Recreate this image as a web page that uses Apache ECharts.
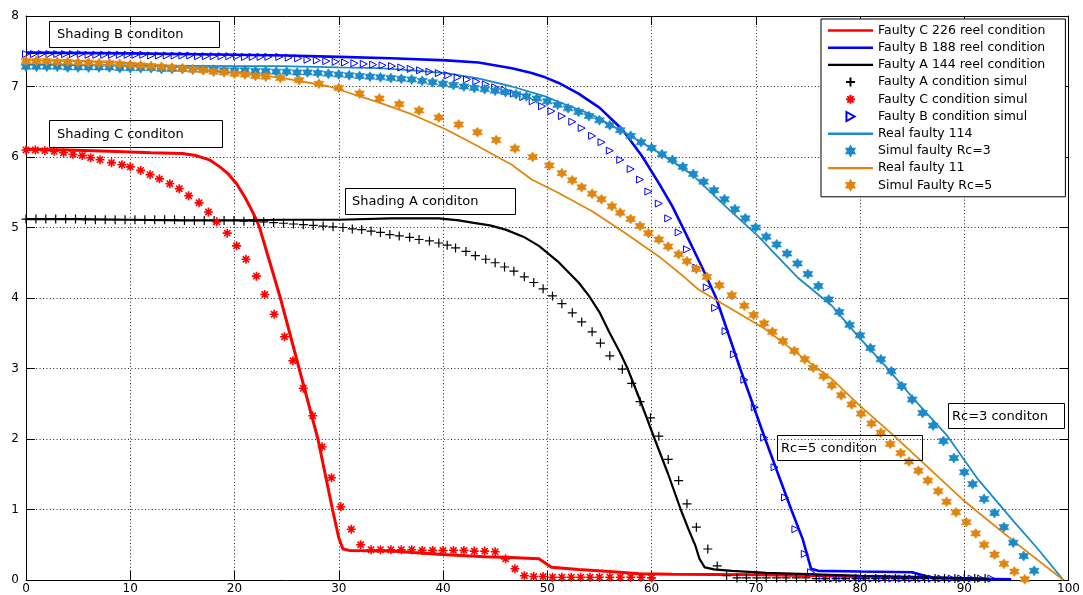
<!DOCTYPE html>
<html>
<head>
<meta charset="utf-8">
<script src="https://cdn.jsdelivr.net/npm/echarts@6/dist/echarts.min.js"></script>
<style>
  html, body { margin: 0; padding: 0; background: #fff; }
  #chart { width: 1083px; height: 595px; }
</style>
</head>
<body>
<div id="chart"></div>
<script>
// legend names, in the order of the legend box
const seriesNames = [
  "Faulty C 226 reel condition",
  "Faulty B 188 reel condition",
  "Faulty A 144 reel condition",
  "Faulty A condition simul",
  "Faulty C condition simul",
  "Faulty B condition simul",
  "Real faulty 114",
  "Simul faulty Rc=3",
  "Real faulty 11",
  "Simul Faulty Rc=5"
];
// which legend entries are plain lines
const lineEntries = [true, true, true, false, false, false, true, false, true, false];

const xTicks = [0, 10, 20, 30, 40, 50, 60, 70, 80, 90, 100];
const yTicks = [0, 1, 2, 3, 4, 5, 6, 7, 8];

// measured curves [x, y]
const faultyCReel = [[0,6.11],[4,6.1],[8,6.08],[12,6.06],[15,6.05],[16.3,6.02],[17.6,5.96],[18.6,5.86],[19.4,5.76],[20.2,5.62],[21,5.43],[21.6,5.26],[22.1,5.11],[22.4,5.0],[23.4,4.5],[24.4,4.0],[26.2,3.0],[28.0,2.0],[29.4,1.0],[30.0,0.6],[30.4,0.44],[31,0.42],[35,0.41],[39.9,0.36],[44,0.33],[46.5,0.32],[49.2,0.3],[50.4,0.18],[53,0.15],[56,0.12],[58.8,0.09],[62,0.08],[70,0.075],[76,0.06],[80,0.05],[85,0.03]];

const faultyBReel = [[0,7.48],[10,7.47],[20,7.45],[25,7.44],[30,7.42],[35,7.4],[40.3,7.37],[43.4,7.34],[46.6,7.26],[48.5,7.19],[49.8,7.13],[51.1,7.05],[53,6.9],[55,6.7],[57.2,6.39],[59.1,6.01],[60.7,5.63],[62,5.3],[63.1,4.97],[64.8,4.45],[66.2,4.0],[68.5,3.0],[70.9,2.0],[73.4,1.0],[74.5,0.58],[75.3,0.16],[76,0.13],[80,0.12],[85,0.11],[86.2,0.06],[87,0.03],[90,0.02],[94.5,0.01]];

const faultyAReel = [[0,5.12],[5,5.12],[10,5.11],[15,5.1],[20,5.1],[25,5.11],[30,5.11],[35,5.13],[39.6,5.13],[41.5,5.1],[42.8,5.07],[44.5,5.03],[46,4.97],[47.7,4.87],[49.2,4.74],[51,4.52],[53,4.22],[54,4.03],[55,3.8],[56,3.5],[57,3.22],[57.7,3.0],[58.9,2.55],[60.3,2.0],[61.6,1.5],[62.8,1.0],[63.6,0.7],[64.2,0.49],[64.6,0.3],[65.1,0.18],[66,0.15],[67.7,0.13],[71,0.1],[75,0.085],[80,0.06],[85,0.045],[92,0.02]];

const realFaulty114 = [[0,7.31],[10,7.3],[20,7.29],[24.3,7.29],[30,7.27],[33.9,7.26],[37,7.23],[40.3,7.19],[43.5,7.11],[46.6,7.0],[49.8,6.86],[51.1,6.78],[54.3,6.6],[57.5,6.34],[60.7,6.06],[63.9,5.75],[67.1,5.3],[70.2,4.88],[72,4.6],[74.1,4.28],[77.3,3.89],[79.8,3.46],[82.4,3.04],[85.2,2.56],[88.4,2.04],[91.3,1.43],[94.8,0.82],[97,0.45],[99.5,0.0]];

const realFaulty11 = [[0,7.37],[5,7.36],[10,7.33],[15,7.27],[20,7.19],[24.3,7.13],[29.1,7.0],[33.9,6.77],[37.1,6.6],[40.3,6.39],[43.4,6.15],[46.6,5.89],[48.5,5.68],[51.1,5.49],[54.3,5.23],[57.5,4.92],[60.7,4.59],[63.2,4.29],[64.5,4.12],[67.7,3.84],[70.9,3.56],[74.1,3.2],[77.3,2.85],[80,2.47],[83,2.08],[85.7,1.71],[90,1.12],[95,0.52],[99.5,0.0]];

// simulated points [x, y]
const faultyASimul = [[0,5.12],[0.95,5.12],[1.9,5.12],[2.85,5.12],[3.8,5.12],[4.75,5.12],[5.7,5.11],[6.65,5.11],[7.6,5.11],[8.55,5.11],[9.5,5.11],[10.45,5.11],[11.4,5.11],[12.35,5.11],[13.3,5.11],[14.25,5.11],[15.2,5.1],[16.15,5.1],[17.1,5.1],[18.05,5.1],[19,5.1],[19.95,5.1],[20.9,5.09],[21.85,5.09],[22.8,5.08],[23.75,5.07],[24.7,5.06],[25.65,5.05],[26.6,5.04],[27.55,5.03],[28.5,5.02],[29.45,5.01],[30.4,5.0],[31.3,4.98],[32.2,4.97],[33.1,4.95],[34,4.93],[34.9,4.9],[35.8,4.88],[36.8,4.86],[37.7,4.83],[38.7,4.81],[39.6,4.78],[40.4,4.75],[41.2,4.71],[42.2,4.66],[43.1,4.6],[44.1,4.55],[45,4.5],[45.9,4.44],[46.8,4.38],[47.8,4.3],[48.7,4.22],[49.6,4.13],[50.5,4.03],[51.4,3.92],[52.4,3.79],[53.3,3.66],[54.3,3.52],[55.1,3.36],[56,3.18],[57.2,2.99],[58.1,2.79],[58.9,2.53],[59.9,2.3],[60.7,2.04],[61.6,1.71],[62.6,1.41],[63.4,1.08],[64.3,0.75],[65.4,0.44],[66.3,0.2],[67.2,0.06],[68.2,0.03],[69.1,0.03],[70.1,0.03],[71,0.03],[72,0.03],[72.9,0.03],[73.9,0.03],[74.8,0.03],[75.8,0.02],[76.7,0.02],[77.7,0.02],[78.6,0.02],[79.6,0.02],[80.5,0.02],[81.5,0.02],[82.4,0.02],[83.4,0.02],[84.3,0.02],[85.3,0.02],[86.2,0.02],[87.2,0.02],[88.1,0.02],[89.1,0.02],[90,0.02],[91,0.02],[92,0.02]];

const faultyCSimul = [[0,6.1],[0.9,6.1],[1.8,6.09],[2.7,6.08],[3.6,6.06],[4.5,6.04],[5.4,6.02],[6.2,5.99],[7.1,5.96],[8.2,5.92],[9.2,5.89],[10,5.86],[11,5.81],[11.9,5.75],[12.8,5.69],[13.8,5.62],[14.7,5.55],[15.6,5.45],[16.6,5.35],[17.5,5.22],[18.3,5.08],[19.3,4.92],[20.2,4.74],[21.1,4.55],[22.1,4.31],[22.9,4.05],[23.8,3.77],[24.8,3.45],[25.6,3.11],[26.6,2.72],[27.5,2.33],[28.4,1.89],[29.3,1.45],[30.2,1.04],[31.2,0.72],[32.1,0.5],[33.1,0.43],[34,0.43],[35,0.43],[36,0.43],[37,0.43],[38,0.42],[39,0.42],[40,0.42],[41,0.42],[42,0.42],[43,0.41],[44,0.41],[45,0.4],[46,0.3],[46.9,0.16],[47.8,0.06],[48.7,0.05],[49.6,0.05],[50.5,0.04],[51.4,0.04],[52.3,0.04],[53.2,0.04],[54.1,0.04],[55,0.04],[56,0.04],[57,0.04],[58,0.04],[59,0.04],[60,0.03]];

const faultyBSimul = [[0,7.46],[0.75,7.46],[1.5,7.46],[2.25,7.46],[3,7.46],[3.75,7.46],[4.5,7.46],[5.25,7.46],[6,7.45],[6.75,7.45],[7.5,7.45],[8.25,7.45],[9,7.45],[9.75,7.45],[10.5,7.45],[11.25,7.45],[12,7.44],[12.75,7.44],[13.5,7.44],[14.25,7.44],[15,7.44],[15.75,7.44],[16.5,7.43],[17.25,7.43],[18,7.43],[18.75,7.43],[19.5,7.43],[20.25,7.43],[21,7.42],[21.75,7.42],[22.5,7.42],[23.25,7.42],[24.3,7.42],[25.2,7.41],[26.1,7.4],[27,7.38],[27.9,7.37],[28.8,7.36],[29.7,7.35],[30.6,7.34],[31.5,7.33],[32.4,7.32],[33.3,7.31],[34.2,7.3],[35.1,7.29],[36,7.27],[36.9,7.25],[37.8,7.23],[38.7,7.21],[39.6,7.19],[40.5,7.16],[41.4,7.13],[42.3,7.1],[43.2,7.07],[44.1,7.03],[45,6.99],[45.9,6.95],[46.8,6.9],[47.7,6.85],[48.6,6.79],[49.5,6.72],[50.4,6.65],[51.4,6.58],[52.4,6.5],[53.3,6.41],[54.3,6.3],[55.2,6.21],[56,6.09],[57,5.96],[58,5.83],[58.9,5.68],[59.7,5.51],[60.7,5.34],[61.6,5.13],[62.6,4.93],[63.4,4.69],[64.3,4.43],[65.3,4.15],[66.1,3.86],[67.1,3.53],[67.9,3.2],[68.9,2.84],[69.9,2.45],[70.8,2.02],[71.8,1.6],[72.8,1.17],[73.8,0.72],[74.7,0.37],[75.3,0.11],[76.4,0.02],[77.4,0.02],[78.3,0.02],[79.3,0.02],[80.2,0.02],[81.2,0.02],[82.1,0.02],[83.1,0.02],[84,0.02],[85,0.02],[85.9,0.02],[86.9,0.02],[87.8,0.02],[88.8,0.02],[89.7,0.02],[90.7,0.02],[91.6,0.02],[92.6,0.02]];

const simulRc3 = [[0,7.28],[1,7.28],[2,7.28],[3,7.28],[4,7.27],[5,7.27],[6,7.27],[7,7.27],[8,7.27],[9,7.26],[10,7.26],[11,7.26],[12,7.26],[13,7.25],[14,7.25],[15,7.25],[16,7.24],[17,7.24],[18,7.24],[19,7.23],[20,7.23],[21,7.23],[22,7.22],[23,7.22],[24,7.21],[25,7.21],[26,7.2],[27,7.2],[28,7.19],[29,7.18],[30,7.17],[31,7.16],[32,7.15],[33,7.14],[34,7.13],[35,7.12],[36,7.11],[37,7.1],[38,7.08],[39,7.06],[40,7.04],[41,7.02],[42,7.0],[43,6.98],[44,6.96],[45,6.94],[46,6.92],[47,6.89],[48,6.86],[49,6.83],[50,6.79],[51,6.74],[52,6.69],[53,6.64],[54,6.58],[55,6.52],[56,6.45],[57,6.38],[58,6.3],[59,6.21],[60,6.13],[61,6.04],[62,5.96],[63,5.86],[64,5.76],[65,5.65],[66,5.53],[67,5.4],[68,5.26],[69,5.13],[70,5.0],[71,4.87],[72,4.76],[73,4.63],[74,4.49],[75,4.34],[76,4.17],[77,3.98],[78,3.8],[79,3.62],[80,3.47],[81,3.29],[82,3.13],[83,2.96],[84,2.75],[85,2.56],[86,2.37],[87,2.19],[88,1.97],[89,1.73],[90,1.53],[90.8,1.36],[91.9,1.15],[92.9,0.95],[93.8,0.75],[94.7,0.53],[95.7,0.34],[96.7,0.13]];

const simulRc5 = [[0,7.36],[1,7.36],[2,7.36],[3,7.35],[4,7.35],[5,7.34],[6,7.34],[7,7.33],[8,7.33],[9,7.32],[10,7.31],[11,7.3],[12,7.29],[13,7.28],[14,7.27],[15,7.26],[16,7.24],[17,7.23],[18,7.21],[19,7.2],[20,7.18],[21,7.17],[22,7.15],[23,7.14],[24.4,7.12],[26.2,7.09],[28.1,7.04],[30,6.98],[32,6.9],[33.9,6.83],[35.8,6.75],[37.7,6.66],[39.6,6.56],[41.5,6.46],[43.3,6.35],[45.1,6.24],[46.9,6.12],[48.6,6.0],[50.2,5.88],[51.4,5.77],[52.4,5.67],[53.3,5.57],[54.3,5.48],[55.2,5.4],[56.2,5.3],[57,5.21],[58,5.12],[58.9,5.02],[59.7,4.92],[60.7,4.83],[61.6,4.73],[62.6,4.62],[63.4,4.52],[64.3,4.41],[65.3,4.3],[66.5,4.18],[67.7,4.04],[68.9,3.89],[69.8,3.76],[70.8,3.64],[71.6,3.52],[72.6,3.39],[73.7,3.25],[74.7,3.13],[75.5,3.01],[76.5,2.89],[77.3,2.76],[78.2,2.62],[79.2,2.49],[80.1,2.36],[81.1,2.22],[82,2.09],[82.9,1.93],[83.9,1.8],[84.7,1.68],[85.6,1.55],[86.5,1.41],[87.5,1.26],[88.3,1.11],[89.2,0.96],[90.2,0.82],[91.1,0.66],[91.9,0.5],[92.9,0.36],[93.8,0.23],[94.8,0.12],[95.8,0.01]];

// text boxes drawn on the plot
const notes = [
  { text: "Shading B conditon", box: [49, 21, 170, 26], pad: 8 },
  { text: "Shading C conditon", box: [49, 120, 173, 27], pad: 8 },
  { text: "Shading A conditon", box: [345, 188, 170, 26], pad: 7 },
  { text: "Rc=5 conditon", box: [777, 435, 145, 25], pad: 4 },
  { text: "Rc=3 conditon", box: [948, 403, 116, 25], pad: 4 }
];

const RED = "#ff0000", BLUE = "#0000ff", BLACK = "#000000";
const TEAL = "#1a8ac8", ORANGE = "#e0860f";
const FONT = "DejaVu Sans";

const plusPath = "path://M0,5L10,5M5,0L5,10";
const asteriskPath = "path://M0,5L10,5M5,0L5,10M1.5,1.5L8.5,8.5M8.5,1.5L1.5,8.5";
const trianglePath = "path://M0,0L9,5L0,10Z";
const hexagramPath = "path://M5,0L6.45,2.49L9.33,2.5L7.9,5L9.33,7.5L6.45,7.51L5,10L3.55,7.51L0.67,7.5L2.1,5L0.67,2.5L3.55,2.49Z";
const lineIcon = "path://M0,0L45,0L45,2.4L0,2.4Z";

function lineSeries(name, data, color, width) {
  return {
    name: name, type: "line", data: data, symbol: "none",
    lineStyle: { color: color, width: width }, itemStyle: { color: color },
    z: 3
  };
}
function strokeMarks(name, data, path, color, size, bw) {
  return {
    name: name, type: "scatter", data: data, symbol: path, symbolSize: size,
    itemStyle: { color: "rgba(0,0,0,0)", borderColor: color, borderWidth: bw, opacity: 1 },
    z: 4
  };
}
function filledMarks(name, data, color, size) {
  return {
    name: name, type: "scatter", data: data, symbol: hexagramPath, symbolSize: size,
    itemStyle: { color: color, borderColor: color, borderWidth: 0.6, opacity: 1 },
    z: 4
  };
}

const chart = echarts.init(document.getElementById("chart"), null, { renderer: "canvas" });

const axisCommon = {
  type: "value",
  axisLine: { show: true, onZero: false, lineStyle: { color: BLACK, width: 1 } },
  axisTick: { show: true, inside: true, length: 9, lineStyle: { color: BLACK, width: 1 } },
  splitLine: { show: false }
};

const graphics = [];
notes.forEach(function (n) {
  const b = n.box;
  graphics.push({
    type: "rect", z: 50,
    shape: { x: b[0] + 0.5, y: b[1] + 0.5, width: b[2], height: b[3] },
    style: { fill: "none", stroke: BLACK, lineWidth: 1 }
  });
  graphics.push({
    type: "text", z: 51, x: b[0] + n.pad, y: b[1] + b[3] / 2 + 1,
    style: { text: n.text, fill: BLACK, font: "13px '" + FONT + "'", textVerticalAlign: "middle" }
  });
});

const legendData = seriesNames.map(function (name, i) {
  return lineEntries[i]
    ? { name: name, icon: lineIcon, itemStyle: { borderWidth: 0 } }
    : { name: name };
});

chart.setOption({
  animation: false,
  backgroundColor: "#ffffff",
  grid: { left: 26, right: 12, top: 16, bottom: 14, containLabel: false },
  legend: {
    orient: "vertical", left: 821, top: 19,
    padding: [3, 20, 3, 7],
    backgroundColor: "#ffffff", borderColor: BLACK, borderWidth: 1,
    itemWidth: 45, itemHeight: 9, itemGap: 0.2,
    textStyle: { fontFamily: FONT, fontSize: 12.5, color: BLACK, lineHeight: 17 },
    data: legendData, z: 60
  },
  xAxis: [
    Object.assign({}, axisCommon, {
      min: xTicks[0], max: xTicks[xTicks.length - 1], interval: 10, position: "bottom",
      axisLabel: { show: true, color: BLACK, fontFamily: FONT, fontSize: 12, margin: 3 },
      splitLine: { show: true, lineStyle: { color: "#222", width: 1, type: [1, 2.4] } }
    }),
    Object.assign({}, axisCommon, {
      min: xTicks[0], max: xTicks[xTicks.length - 1], interval: 10, position: "top",
      axisLabel: { show: false }
    })
  ],
  yAxis: [
    Object.assign({}, axisCommon, {
      min: yTicks[0], max: yTicks[yTicks.length - 1], interval: 1, position: "left",
      axisLabel: { show: true, color: BLACK, fontFamily: FONT, fontSize: 12, margin: 7 },
      splitLine: { show: true, lineStyle: { color: "#222", width: 1, type: [1, 2.4] } }
    }),
    Object.assign({}, axisCommon, {
      min: yTicks[0], max: yTicks[yTicks.length - 1], interval: 1, position: "right",
      axisLabel: { show: false }
    })
  ],
  series: [
    lineSeries(seriesNames[0], faultyCReel, RED, 3),
    lineSeries(seriesNames[1], faultyBReel, BLUE, 2.6),
    lineSeries(seriesNames[2], faultyAReel, BLACK, 2.2),
    strokeMarks(seriesNames[3], faultyASimul, plusPath, BLACK, 9, 1.2),
    strokeMarks(seriesNames[4], faultyCSimul, asteriskPath, RED, 9, 1.6),
    strokeMarks(seriesNames[5], faultyBSimul, trianglePath, BLUE, 7, 1),
    lineSeries(seriesNames[6], realFaulty114, TEAL, 1.8),
    filledMarks(seriesNames[7], simulRc3, TEAL, 10),
    lineSeries(seriesNames[8], realFaulty11, ORANGE, 1.8),
    filledMarks(seriesNames[9], simulRc5, ORANGE, 10)
  ],
  graphic: graphics
});
</script>
</body>
</html>
